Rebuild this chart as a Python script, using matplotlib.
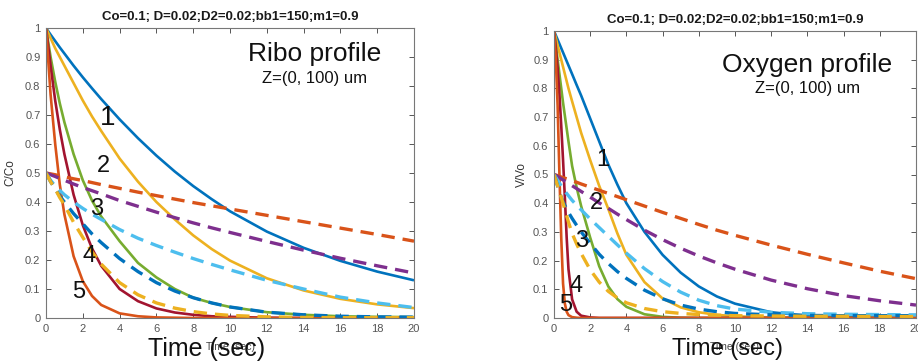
import matplotlib
matplotlib.use("Agg")
import matplotlib.pyplot as plt
from matplotlib.ticker import FuncFormatter

plt.rcParams['font.family'] = ['Liberation Sans', 'DejaVu Sans']

# MATLAB default line colours
BLUE = '#0072BD'
ORANGE = '#D95319'
YELLOW = '#EDB120'
PURPLE = '#7E2F8E'
GREEN = '#77AC30'
LIGHTBLUE = '#4DBEEE'
DARKRED = '#A2142F'

title_text = 'Co=0.1; D=0.02;D2=0.02;bb1=150;m1=0.9'

# ---- Ribo profile (left) ----
t_ribo = [0, 0.25, 0.5, 0.75, 1, 1.5, 2, 2.5, 3, 4, 5, 6, 7, 8, 9, 10, 12, 14, 16, 18, 20]
ribo_solid_1 = [1, 0.977, 0.955, 0.933, 0.912, 0.87, 0.83, 0.792, 0.755, 0.685, 0.62, 0.56, 0.505, 0.455, 0.41, 0.368, 0.298, 0.242, 0.197, 0.16, 0.13]
ribo_solid_2 = [1, 0.965, 0.93, 0.9, 0.87, 0.81, 0.75, 0.695, 0.645, 0.55, 0.47, 0.4, 0.34, 0.285, 0.238, 0.198, 0.137, 0.095, 0.066, 0.047, 0.034]
ribo_solid_3 = [1, 0.9, 0.815, 0.74, 0.675, 0.565, 0.475, 0.405, 0.35, 0.265, 0.19, 0.14, 0.1, 0.07, 0.052, 0.038, 0.02, 0.011, 0.006, 0.004, 0.003]
ribo_solid_4 = [1, 0.87, 0.75, 0.65, 0.565, 0.425, 0.32, 0.24, 0.18, 0.1, 0.058, 0.033, 0.019, 0.011, 0.006, 0.004, 0.001, 0, 0, 0, 0]
ribo_solid_5 = [1, 0.77, 0.6, 0.46, 0.357, 0.213, 0.127, 0.076, 0.045, 0.016, 0.006, 0.002, 0.001, 0, 0, 0, 0, 0, 0, 0, 0]
ribo_dash_orange = [0.5, 0.497, 0.494, 0.49, 0.487, 0.48, 0.474, 0.467, 0.46, 0.447, 0.434, 0.422, 0.41, 0.398, 0.387, 0.376, 0.354, 0.332, 0.31, 0.288, 0.265]
ribo_dash_purple = [0.5, 0.494, 0.488, 0.481, 0.475, 0.462, 0.45, 0.439, 0.428, 0.405, 0.385, 0.365, 0.346, 0.328, 0.311, 0.295, 0.264, 0.234, 0.206, 0.18, 0.155]
ribo_dash_lightblue = [0.5, 0.475, 0.455, 0.44, 0.425, 0.4, 0.378, 0.358, 0.34, 0.305, 0.275, 0.25, 0.227, 0.205, 0.185, 0.166, 0.13, 0.1, 0.072, 0.052, 0.036]
ribo_dash_blue = [0.5, 0.47, 0.445, 0.42, 0.4, 0.36, 0.325, 0.29, 0.26, 0.205, 0.16, 0.122, 0.093, 0.07, 0.052, 0.038, 0.02, 0.011, 0.006, 0.004, 0.003]
ribo_dash_yellow = [0.5, 0.47, 0.445, 0.415, 0.39, 0.33, 0.278, 0.228, 0.186, 0.122, 0.08, 0.052, 0.034, 0.022, 0.014, 0.009, 0.004, 0.002, 0.001, 0.001, 0.001]

# ---- Oxygen profile (right) ----
t_oxy = [0, 0.1, 0.2, 0.3, 0.4, 0.5, 0.6, 0.7, 0.8, 1, 1.25, 1.5, 2, 2.5, 3, 3.5, 4, 5, 6, 7, 8, 9, 10, 12, 14, 16, 18, 20]
oxy_solid_1 = [1, 0.985, 0.97, 0.955, 0.94, 0.925, 0.91, 0.895, 0.88, 0.85, 0.812, 0.775, 0.695, 0.615, 0.535, 0.465, 0.4, 0.3, 0.22, 0.158, 0.11, 0.075, 0.05, 0.02, 0.008, 0.003, 0.001, 0]
oxy_solid_2 = [1, 0.975, 0.95, 0.925, 0.9, 0.875, 0.85, 0.825, 0.8, 0.755, 0.7, 0.645, 0.55, 0.46, 0.38, 0.295, 0.22, 0.125, 0.068, 0.037, 0.02, 0.011, 0.006, 0.002, 0.001, 0, 0, 0]
oxy_solid_3 = [1, 0.95, 0.9, 0.85, 0.8, 0.75, 0.705, 0.66, 0.615, 0.53, 0.455, 0.39, 0.28, 0.18, 0.11, 0.066, 0.039, 0.013, 0.004, 0.001, 0, 0, 0, 0, 0, 0, 0, 0]
oxy_solid_4 = [1, 0.94, 0.87, 0.78, 0.67, 0.55, 0.42, 0.28, 0.17, 0.065, 0.022, 0.008, 0.002, 0, 0, 0, 0, 0, 0, 0, 0, 0, 0, 0, 0, 0, 0, 0]
oxy_solid_5 = [1, 0.9, 0.74, 0.5, 0.28, 0.12, 0.05, 0.022, 0.01, 0.003, 0.001, 0, 0, 0, 0, 0, 0, 0, 0, 0, 0, 0, 0, 0, 0, 0, 0, 0]
oxy_dash_orange = [0.5, 0.498, 0.496, 0.494, 0.491, 0.489, 0.487, 0.485, 0.483, 0.478, 0.473, 0.467, 0.456, 0.445, 0.434, 0.423, 0.412, 0.39, 0.368, 0.347, 0.326, 0.306, 0.288, 0.254, 0.222, 0.192, 0.163, 0.137]
oxy_dash_purple = [0.5, 0.497, 0.493, 0.489, 0.485, 0.481, 0.477, 0.473, 0.469, 0.461, 0.451, 0.441, 0.421, 0.401, 0.382, 0.362, 0.343, 0.306, 0.273, 0.243, 0.216, 0.192, 0.17, 0.132, 0.102, 0.078, 0.06, 0.045]
oxy_dash_lightblue = [0.5, 0.49, 0.48, 0.47, 0.46, 0.45, 0.442, 0.434, 0.426, 0.41, 0.393, 0.377, 0.345, 0.315, 0.285, 0.255, 0.226, 0.172, 0.127, 0.09, 0.062, 0.043, 0.031, 0.02, 0.015, 0.013, 0.012, 0.011]
oxy_dash_blue = [0.5, 0.48, 0.46, 0.44, 0.42, 0.405, 0.392, 0.38, 0.368, 0.347, 0.323, 0.3, 0.26, 0.222, 0.19, 0.162, 0.138, 0.097, 0.067, 0.045, 0.031, 0.022, 0.016, 0.011, 0.009, 0.008, 0.008, 0.008]
oxy_dash_yellow = [0.5, 0.48, 0.46, 0.44, 0.42, 0.4, 0.378, 0.356, 0.334, 0.295, 0.258, 0.225, 0.168, 0.125, 0.093, 0.07, 0.053, 0.033, 0.022, 0.016, 0.012, 0.01, 0.008, 0.007, 0.006, 0.006, 0.005, 0.005]

# curve labels "1".."5": x, y in data units
ribo_label_x = [3.37, 3.1, 2.77, 2.34, 1.8]
ribo_label_y = [0.69, 0.524, 0.376, 0.214, 0.09]
oxy_label_x = [2.7, 2.35, 1.55, 1.2, 0.62]
oxy_label_y = [0.55, 0.40, 0.27, 0.11, 0.045]
curve_names = ['1', '2', '3', '4', '5']

fig = plt.figure(figsize=(9.18, 3.62), dpi=100)
ax1 = fig.add_axes([46 / 918, 1 - 318 / 362, 368 / 918, 290 / 362])
ax2 = fig.add_axes([554 / 918, 1 - 318 / 362, 362 / 918, 287 / 362])

SOLID_LW = 1.9
DASH_LW = 2.4
DASHES = (4, 2.4)


def fmt(v, pos):
    return ('%g' % round(v, 2))


def draw(ax, t, solids, dashes, lab_x, lab_y, ylabel, name, name_xy, z_xy, ylabpad):
    for vals, c in zip(solids, [BLUE, YELLOW, GREEN, DARKRED, ORANGE]):
        ax.plot(t, vals, color=c, lw=SOLID_LW, solid_capstyle='butt')
    for vals, c in zip(dashes, [ORANGE, PURPLE, LIGHTBLUE, BLUE, YELLOW]):
        ax.plot(t, vals, color=c, lw=DASH_LW, dashes=DASHES, dash_capstyle='butt')
    ax.set_xlim(0, 20)
    ax.set_ylim(0, 1)
    ax.set_xticks(range(0, 21, 2))
    ax.set_yticks([i / 10 for i in range(11)])
    ax.yaxis.set_major_formatter(FuncFormatter(fmt))
    ax.tick_params(direction='in', length=3.5, width=0.7, top=True, right=True,
                   labelsize=8, labelcolor='#555555', color='#555555', pad=4)
    for s in ax.spines.values():
        s.set_color('#777777')
        s.set_linewidth(0.8)
    ax.set_title(title_text, fontsize=9.5, fontweight='bold', color='#1a1a1a', pad=6)
    ax.set_ylabel(ylabel, fontsize=8.5, color='#333333', labelpad=ylabpad)
    ax.set_xlabel('Time (sec)', fontsize=7.5, color='#444444', labelpad=6)
    for i in range(5):
        fs = 20 if (i == 0 and name.startswith('Ribo')) else 17
        ax.text(lab_x[i], lab_y[i], curve_names[i], fontsize=fs, ha='center', va='center', color='#111111')
    ax.text(name_xy[0], name_xy[1], name, fontsize=19, ha='center', va='center', color='#111111')
    ax.text(z_xy[0], z_xy[1], 'Z=(0, 100) um', fontsize=12, ha='center', va='center', color='#111111')


draw(ax1, t_ribo,
     [ribo_solid_1, ribo_solid_2, ribo_solid_3, ribo_solid_4, ribo_solid_5],
     [ribo_dash_orange, ribo_dash_purple, ribo_dash_lightblue, ribo_dash_blue, ribo_dash_yellow],
     ribo_label_x, ribo_label_y, 'C/Co', 'Ribo profile', (14.6, 0.91), (14.6, 0.825), 6)
draw(ax2, t_oxy,
     [oxy_solid_1, oxy_solid_2, oxy_solid_3, oxy_solid_4, oxy_solid_5],
     [oxy_dash_orange, oxy_dash_purple, oxy_dash_lightblue, oxy_dash_blue, oxy_dash_yellow],
     oxy_label_x, oxy_label_y, 'V/Vo', 'Oxygen profile', (14.0, 0.88), (14.0, 0.80), 4)

# the large axis captions pasted over the small MATLAB xlabels
fig.text(207 / 918, 1 - 349 / 362, 'Time (sec)', fontsize=18, ha='center', va='center', color='#111111')
fig.text(727 / 918, 1 - 349 / 362, 'Time (sec)', fontsize=17, ha='center', va='center', color='#111111')

fig.savefig('out.png', dpi=100)
